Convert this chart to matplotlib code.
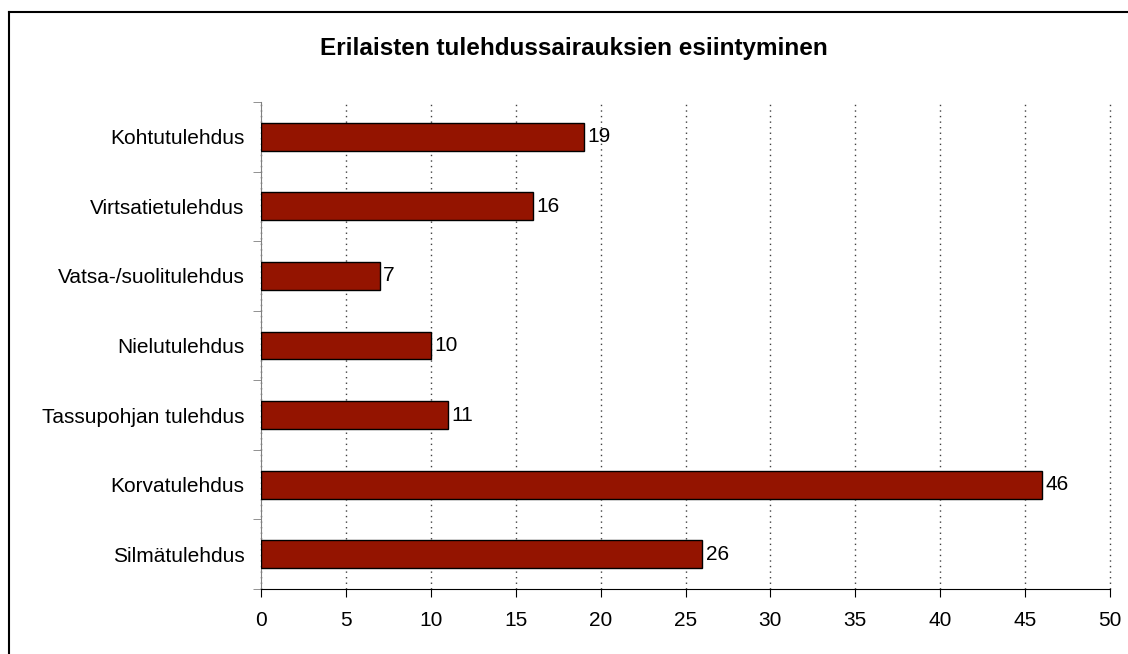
import matplotlib.pyplot as plt
from matplotlib.lines import Line2D

# Tiedot (alhaalta ylös kuten kuvassa)
categories = ['Silmätulehdus', 'Korvatulehdus', 'Tassupohjan tulehdus', 'Nielutulehdus',
              'Vatsa-/suolitulehdus', 'Virtsatietulehdus', 'Kohtutulehdus']
values = [26, 46, 11, 10, 7, 16, 19]
xticks = [0, 5, 10, 15, 20, 25, 30, 35, 40, 45, 50]

plt.rcParams['font.family'] = ['Liberation Sans', 'DejaVu Sans']
FS = 15

fig = plt.figure(figsize=(11.28, 6.54), dpi=100)
W, H = 1128, 654
ax = fig.add_axes([261 / W, 1 - 589 / H, (1110 - 261) / W, (589 - 102) / H])

ypos = range(len(categories))
ax.barh(ypos, values, height=0.4, color='#941400', edgecolor='black', linewidth=1, zorder=3)
for y, v in zip(ypos, values):
    ax.text(v + 0.2, y, str(v), va='center', ha='left', fontsize=FS)

ax.set_xlim(0, 50)
ax.set_ylim(-0.5, len(categories) - 0.5)
ax.set_xticks(xticks)
ax.set_xticklabels([str(t) for t in xticks], fontsize=FS)
ax.set_yticks(ypos)
ax.set_yticklabels(categories, fontsize=FS)
# väkäset luokkien välissä
ax.set_yticks([i - 0.5 for i in range(len(categories) + 1)], minor=True)
ax.tick_params(axis='y', which='major', length=0, pad=12)
ax.tick_params(axis='y', which='minor', length=6, color='#808080', direction='out')
ax.tick_params(axis='x', length=6, pad=10, direction='out')

ax.grid(axis='x', linestyle=(0, (1, 3)), color='#404040', linewidth=1, zorder=0)
for gl in ax.get_xgridlines():
    gl.set_clip_on(False)
for s in ['top', 'right']:
    ax.spines[s].set_visible(False)
ax.spines['left'].set_color('#808080')
ax.spines['bottom'].set_color('black')

fig.text(574 / W, 1 - 55 / H, 'Erilaisten tulehdussairauksien esiintyminen',
         ha='center', va='baseline', fontsize=17.5, fontweight='bold')

# kehys (vain vasen ja ylä näkyvissä)
fig.add_artist(Line2D([8.5 / W, 8.5 / W], [0, 1 - 11.5 / H], transform=fig.transFigure, color='black', lw=1.5))
fig.add_artist(Line2D([8.5 / W, 1], [1 - 11.5 / H, 1 - 11.5 / H], transform=fig.transFigure, color='black', lw=1.5))

fig.savefig('out.png', dpi=100)
